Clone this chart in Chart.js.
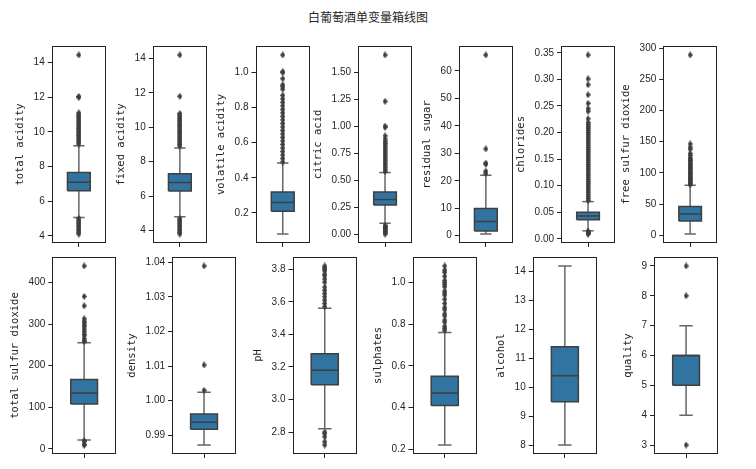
<!DOCTYPE html>
<html lang="zh-CN">
<head>
<meta charset="UTF-8">
<title>白葡萄酒单变量箱线图</title>
<script src="https://cdn.jsdelivr.net/npm/chart.js"></script>
<style>
  body { margin: 0; width: 756px; height: 469px; background: #fff; position: relative; overflow: hidden; }
  .titulo { position: absolute; left: 268px; top: 10px; width: 200px; line-height: 14px; text-align: center;
            font-size: 12px; font-family: 'Noto Sans CJK SC', sans-serif; color: #262626; }
  canvas { position: absolute; }
</style>
</head>
<body>
<div class="titulo">白葡萄酒单变量箱线图</div>

<script>
    const nomes = ['total acidity', 'fixed acidity', 'volatile acidity', 'citric acid', 'residual sugar',
        'chlorides', 'free sulfur dioxide', 'total sulfur dioxide', 'density', 'pH', 'sulphates',
        'alcohol', 'quality'];

    // [bigode inferior, Q1, mediana, Q3, bigode superior]
    const totalAcidityBox = [5.05, 6.6, 7.1, 7.65, 9.2];
    const fixedAcidityBox = [4.8, 6.3, 6.8, 7.3, 8.8];
    const volatileAcidityBox = [0.08, 0.21, 0.26, 0.32, 0.485];
    const citricAcidBox = [0.1, 0.27, 0.32, 0.39, 0.57];
    const residualSugarBox = [0.6, 1.7, 5.2, 9.9, 22.0];
    const chloridesBox = [0.015, 0.036, 0.043, 0.05, 0.07];
    const freeSulfurBox = [2, 23, 34, 46, 80];
    const totalSulfurBox = [21, 108, 134, 167, 255];
    const densityBox = [0.98711, 0.99172, 0.99374, 0.9961, 1.0024];
    const phBox = [2.82, 3.09, 3.18, 3.28, 3.56];
    const sulphatesBox = [0.22, 0.41, 0.47, 0.55, 0.76];
    const alcoholBox = [8.0, 9.5, 10.4, 11.4, 14.2];
    const qualityBox = [4, 5, 6, 6, 7];

    // outliers
    const totalAcidityOut = [4.1, 4.2, 4.3, 4.4, 4.5, 4.6, 4.7, 4.8, 4.9, 5.0, 9.3, 9.4, 9.5, 9.6, 9.7, 9.8, 9.9,
        10.0, 10.1, 10.2, 10.3, 10.4, 10.5, 10.6, 10.7, 10.8, 10.9, 11.0, 11.1, 12.0, 12.05, 14.45];
    const fixedAcidityOut = [3.8, 3.9, 4.0, 4.1, 4.2, 4.3, 4.4, 4.5, 4.6, 4.7, 8.9, 9.0, 9.1, 9.2, 9.3, 9.4, 9.5,
        9.6, 9.7, 9.8, 9.9, 10.0, 10.1, 10.2, 10.3, 10.4, 10.5, 10.6, 10.7, 10.8, 11.8, 14.2];
    const volatileAcidityOut = [0.49, 0.51, 0.53, 0.55, 0.57, 0.59, 0.61, 0.63, 0.65, 0.67, 0.69, 0.71, 0.73, 0.75,
        0.77, 0.79, 0.81, 0.83, 0.85, 0.87, 0.905, 0.92, 0.93, 0.965, 1.0, 1.005, 1.1];
    const citricAcidOut = [0, 0.01, 0.02, 0.03, 0.04, 0.05, 0.06, 0.07, 0.08, 0.58, 0.6, 0.62, 0.64, 0.66, 0.68,
        0.7, 0.72, 0.74, 0.76, 0.78, 0.8, 0.82, 0.84, 0.86, 0.88, 0.91, 0.99, 1.0, 1.23, 1.66];
    const residualSugarOut = [22.6, 23.5, 26.05, 26.4, 31.6, 65.8];
    const chloridesOut = [0.009, 0.01, 0.012, 0.013, 0.014, 0.072, 0.076, 0.08, 0.084, 0.088, 0.092, 0.096, 0.1,
        0.104, 0.108, 0.112, 0.116, 0.12, 0.124, 0.128, 0.132, 0.136, 0.14, 0.144, 0.148, 0.152, 0.156, 0.16,
        0.164, 0.168, 0.172, 0.176, 0.18, 0.184, 0.188, 0.192, 0.196, 0.2, 0.204, 0.208, 0.211, 0.215, 0.219,
        0.226, 0.24, 0.245, 0.255, 0.271, 0.29, 0.301, 0.346];
    const freeSulfurOut = [81, 83, 85, 87, 89, 91, 93, 95, 97, 99, 101, 103, 105, 107, 109, 111, 113, 115, 118,
        120, 122, 124, 128, 131, 138, 141, 146.5, 289];
    const totalSulfurOut = [9, 10, 18, 19, 258, 260, 265, 272, 276, 282, 288, 294, 298, 303, 307, 313, 344, 366.5, 440];
    const densityOut = [1.00295, 1.0103, 1.03898];
    const phOut = [2.72, 2.74, 2.77, 2.79, 2.8, 3.57, 3.59, 3.61, 3.63, 3.65, 3.67, 3.69, 3.72, 3.74, 3.76, 3.77,
        3.79, 3.8, 3.81, 3.82];
    const sulphatesOut = [0.77, 0.78, 0.79, 0.81, 0.82, 0.84, 0.85, 0.87, 0.88, 0.9, 0.92, 0.94, 0.95, 0.96, 0.98,
        0.99, 1.0, 1.01, 1.03, 1.05, 1.06, 1.08];
    const alcoholOut = [];
    const qualityOut = [3, 8, 9];

    // ticks do eixo y
    const acidityTicks = [4, 6, 8, 10, 12, 14];
    const volatileTicks = [0.2, 0.4, 0.6, 0.8, 1.0];
    const citricTicks = [0, 0.25, 0.5, 0.75, 1.0, 1.25, 1.5];
    const sugarTicks = [0, 10, 20, 30, 40, 50, 60];
    const chloridesTicks = [0, 0.05, 0.1, 0.15, 0.2, 0.25, 0.3, 0.35];
    const freeSulfurTicks = [0, 50, 100, 150, 200, 250, 300];
    const totalSulfurTicks = [0, 100, 200, 300, 400];
    const densityTicks = [0.99, 1.0, 1.01, 1.02, 1.03, 1.04];
    const phTicks = [2.8, 3.0, 3.2, 3.4, 3.6, 3.8];
    const sulphatesTicks = [0.2, 0.4, 0.6, 0.8, 1.0];
    const alcoholTicks = [8, 9, 10, 11, 12, 13, 14];
    const qualityTicks = [3, 4, 5, 6, 7, 8, 9];
    const casas = [0, 0, 1, 2, 0, 2, 0, 0, 2, 1, 1, 0, 0];

    const caixas = [totalAcidityBox, fixedAcidityBox, volatileAcidityBox, citricAcidBox, residualSugarBox,
        chloridesBox, freeSulfurBox, totalSulfurBox, densityBox, phBox, sulphatesBox, alcoholBox, qualityBox];
    const outliers = [totalAcidityOut, fixedAcidityOut, volatileAcidityOut, citricAcidOut, residualSugarOut,
        chloridesOut, freeSulfurOut, totalSulfurOut, densityOut, phOut, sulphatesOut, alcoholOut, qualityOut];
    const ticks = [acidityTicks, acidityTicks, volatileTicks, citricTicks, sugarTicks, chloridesTicks,
        freeSulfurTicks, totalSulfurTicks, densityTicks, phTicks, sulphatesTicks, alcoholTicks, qualityTicks];

    // posicao de cada quadro (area do grafico)
    const celulas = [];
    [52, 153, 256, 358, 459, 561, 663].forEach(l => celulas.push({ l: l, t: 46, w: 54, h: 197 }));
    [52, 172, 293, 413, 533, 654].forEach(l => celulas.push({ l: l, t: 257, w: 64, h: 197 }));

    const fonteTick = "'Liberation Sans Narrow', 'Liberation Sans', sans-serif";
    const fonteEixo = "'DejaVu Sans Mono', monospace";

    // marcador losango fino
    const losango = document.createElement('canvas');
    losango.width = 5; losango.height = 7;
    const lc = losango.getContext('2d');
    lc.fillStyle = '#3d3d3d';
    lc.beginPath();
    lc.moveTo(2.5, 0); lc.lineTo(5, 3.5); lc.lineTo(2.5, 7); lc.lineTo(0, 3.5);
    lc.closePath(); lc.fill();

    const moldura = {
        id: 'moldura',
        afterDatasetsDraw(chart) {
            const { ctx, chartArea: a } = chart;
            ctx.save();
            ctx.strokeStyle = '#222';
            ctx.lineWidth = 1;
            ctx.strokeRect(Math.round(a.left) + 0.5, Math.round(a.top) + 0.5,
                Math.round(a.width) - 1, Math.round(a.height) - 1);
            ctx.restore();
        }
    };

    function linha(pts, cor, ordem) {
        return { data: pts, showLine: true, borderColor: cor, borderWidth: 1.5, pointRadius: 0, fill: false, order: ordem };
    }

    function config(i) {
        const [lo, q1, med, q3, hi] = caixas[i];
        const out = outliers[i];
        const todos = caixas[i].concat(out);
        const vmin = Math.min(...todos), vmax = Math.max(...todos);
        const m = (vmax - vmin) * 0.05;
        const bw = 0.21, cw = 0.105;
        return {
            type: 'scatter',
            data: {
                datasets: [
                    {
                        data: [{ x: -bw, y: q1 }, { x: bw, y: q1 }, { x: bw, y: q3 }, { x: -bw, y: q3 }, { x: -bw, y: q1 }],
                        showLine: true, fill: 'shape', backgroundColor: '#3274a1', borderColor: '#3f3f3f',
                        borderWidth: 1.5, borderJoinStyle: 'miter', pointRadius: 0, order: 2
                    },
                    linha([{ x: 0, y: q3 }, { x: 0, y: hi }], '#666', 3),
                    linha([{ x: 0, y: q1 }, { x: 0, y: lo }], '#666', 3),
                    linha([{ x: -cw, y: hi }, { x: cw, y: hi }], '#666', 3),
                    linha([{ x: -cw, y: lo }, { x: cw, y: lo }], '#666', 3),
                    linha([{ x: -bw, y: med }, { x: bw, y: med }], '#3f3f3f', 1),
                    { data: out.map(v => ({ x: 0, y: v })), pointStyle: losango, pointRadius: 3, order: 0 }
                ]
            },
            options: {
                responsive: false,
                animation: false,
                events: [],
                layout: { padding: { top: 6, right: 4, left: 0, bottom: 0 } },
                plugins: { legend: { display: false }, tooltip: { enabled: false } },
                scales: {
                    x: {
                        type: 'linear', min: -0.5, max: 0.5,
                        afterBuildTicks: s => { s.ticks = [{ value: 0 }]; },
                        ticks: { callback: () => '', font: { size: 10 } },
                        grid: { drawOnChartArea: false, tickLength: 4, color: '#222' },
                        border: { display: false }
                    },
                    y: {
                        min: vmin - m, max: vmax + m,
                        afterBuildTicks: s => { s.ticks = ticks[i].map(v => ({ value: v })); },
                        ticks: {
                            callback: v => Number(v).toFixed(casas[i]),
                            font: { family: fonteTick, size: 10 }, color: '#262626', padding: 3
                        },
                        grid: { drawOnChartArea: false, tickLength: 4, color: '#222' },
                        border: { display: false },
                        title: {
                            display: true, text: nomes[i], color: '#262626',
                            font: { family: fonteEixo, size: 10.5 }, padding: { top: 0, bottom: 4 }
                        }
                    }
                }
            },
            plugins: [moldura]
        };
    }

    celulas.forEach((c, i) => {
        const cv = document.createElement('canvas');
        document.body.appendChild(cv);
        cv.width = 200; cv.height = c.h + 40;
        const teste = new Chart(cv, config(i));
        const a = teste.chartArea;
        const esq = a.left, topo = a.top, dir = 200 - a.right, base = c.h + 40 - a.bottom;
        teste.destroy();
        cv.width = Math.round(esq + c.w + dir);
        cv.height = Math.round(topo + c.h + base);
        cv.style.left = Math.round(c.l - esq) + 'px';
        cv.style.top = Math.round(c.t - topo) + 'px';
        new Chart(cv, config(i));
    });
</script>
</body>
</html>
